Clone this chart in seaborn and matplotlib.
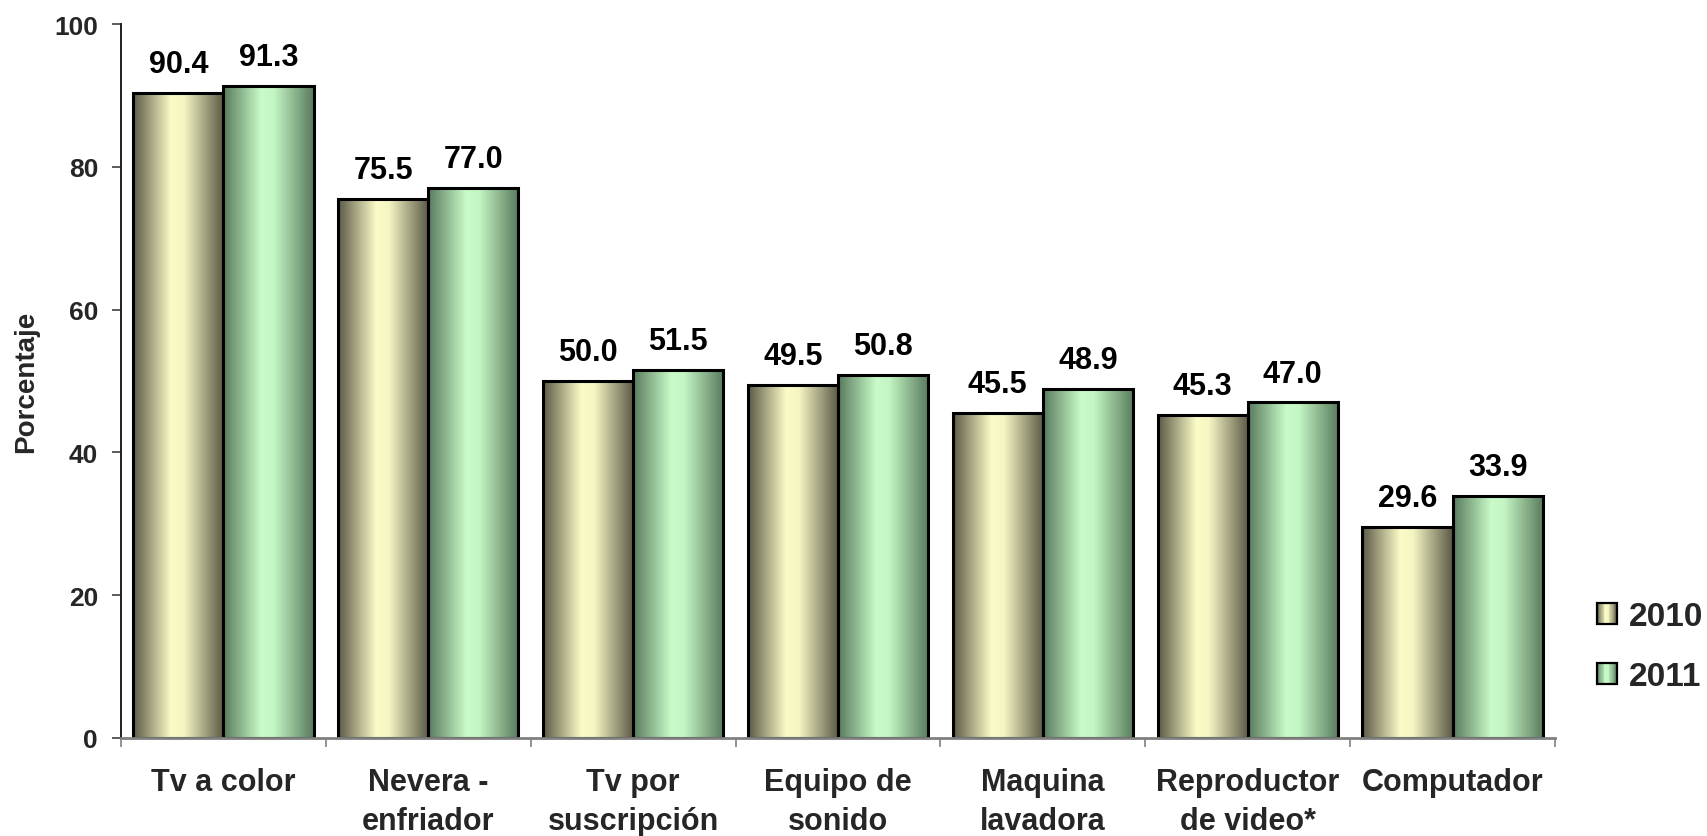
import numpy as np
import pandas as pd
import matplotlib
matplotlib.use("Agg")
import matplotlib.pyplot as plt
import seaborn as sns
from matplotlib.colors import LinearSegmentedColormap
from matplotlib.legend_handler import HandlerBase
from matplotlib.patches import Rectangle
from matplotlib.ticker import FixedLocator

# ---- data ----
categories = ["Tv a color", "Nevera -\nenfriador", "Tv por\nsuscripción",
              "Equipo de\nsonido", "Maquina\nlavadora", "Reproductor\nde video*",
              "Computador"]
years = ["2010", "2011"]
values_2010 = [90.4, 75.5, 50.0, 49.5, 45.5, 45.3, 29.6]
values_2011 = [91.3, 77.0, 51.5, 50.8, 48.9, 47.0, 33.9]
y_ticks = [0, 20, 40, 60, 80, 100]
y_label = "Porcentaje"

# ---- style ----
sns.set_theme(style="white")
plt.rcParams["font.family"] = ["Liberation Sans", "DejaVu Sans"]
plt.rcParams["font.weight"] = "bold"

stops = [0.0, 0.42, 0.56, 1.0]
cmaps = {
    "2010": LinearSegmentedColormap.from_list(
        "g2010", list(zip(stops, ["#5b5945", "#fbfbc7", "#f6f6c4", "#5b5945"]))),
    "2011": LinearSegmentedColormap.from_list(
        "g2011", list(zip(stops, ["#587a5c", "#c8fbc8", "#c4f6c4", "#587a5c"]))),
}
palette = {"2010": "#f0f0c0", "2011": "#c0f0c0"}

df = pd.DataFrame({
    "Categoria": categories * 2,
    "Año": [years[0]] * len(categories) + [years[1]] * len(categories),
    "Porcentaje": values_2010 + values_2011,
})

W, H = 1708, 837
fig = plt.figure(figsize=(W / 100, H / 100), dpi=100)
L, R, T, B = 121, 1555, 25, 739
ax = fig.add_axes([L / W, 1 - B / H, (R - L) / W, (B - T) / H])

sns.barplot(data=df, x="Categoria", y="Porcentaje", hue="Año", order=categories,
            hue_order=years, palette=palette, width=0.88, saturation=1,
            ax=ax, legend=False, errorbar=None)

grad = np.linspace(0, 1, 256)[None, :]
for year, container in zip(years, ax.containers):
    for bar in container:
        x0, y0 = bar.get_x(), bar.get_y()
        w, h = bar.get_width(), bar.get_height()
        im = ax.imshow(grad, cmap=cmaps[year], extent=[x0, x0 + w, y0, y0 + h],
                       aspect="auto", interpolation="bilinear", zorder=1.5)
        im.set_clip_path(bar)
        bar.set_facecolor("none")
        bar.set_edgecolor("black")
        bar.set_linewidth(2.2)
        bar.set_zorder(2)
    ax.bar_label(container, labels=[f"{v:.1f}" for v in container.datavalues],
                 padding=10, fontsize=22, fontweight="bold", color="black")

ax.set_xlim(-0.5, len(categories) - 0.5)
ax.set_ylim(0, 100)
ax.set_yticks(y_ticks)
ax.set_yticklabels([str(t) for t in y_ticks], fontsize=19, fontweight="bold")
ax.set_xlabel("")
ax.set_ylabel(y_label, fontsize=20, fontweight="bold")
ax.yaxis.set_label_coords((39 - L) / (R - L), 0.5)

ax.tick_params(axis="x", which="major", length=0, pad=21, labelsize=22)
for lab in ax.get_xticklabels():
    lab.set_fontweight("bold")
    lab.set_linespacing(1.38)
ax.xaxis.set_minor_locator(FixedLocator(np.arange(-0.5, len(categories), 1.0)))
ax.tick_params(axis="x", which="minor", direction="out", length=6.5, width=1.2,
               color="#808080", bottom=True)
ax.tick_params(axis="y", which="major", direction="out", length=6.5, width=1.2,
               color="#404040", left=True, pad=10)

for s in ["top", "right"]:
    ax.spines[s].set_visible(False)
ax.spines["left"].set_color("#202020")
ax.spines["left"].set_linewidth(1.4)
ax.spines["bottom"].set_color("#808080")
ax.spines["bottom"].set_linewidth(2)
ax.grid(False)


class GradientHandler(HandlerBase):
    def __init__(self, cmap):
        super().__init__()
        self.cmap = cmap

    def create_artists(self, legend, orig_handle, xdescent, ydescent, width,
                       height, fontsize, trans):
        n = 24
        arts = []
        for i in range(n):
            arts.append(Rectangle((-xdescent + i * width / n, -ydescent),
                                  width / n * 1.05, height,
                                  facecolor=self.cmap((i + 0.5) / n),
                                  edgecolor="none", transform=trans))
        arts.append(Rectangle((-xdescent, -ydescent), width, height,
                              facecolor="none", edgecolor="black", lw=1.6,
                              transform=trans))
        return arts


handles = [Rectangle((0, 0), 1, 1) for _ in years]
fig.legend(handles, years, loc="center left",
           bbox_to_anchor=(1597 / W, 1 - 647.5 / H),
           frameon=False, prop={"weight": "bold", "size": 24},
           handlelength=0.6, handleheight=0.6, handletextpad=0.36,
           labelspacing=0.88, borderpad=0, borderaxespad=0,
           handler_map={h: GradientHandler(cmaps[y]) for h, y in zip(handles, years)})

fig.savefig("out.png", dpi=100)
